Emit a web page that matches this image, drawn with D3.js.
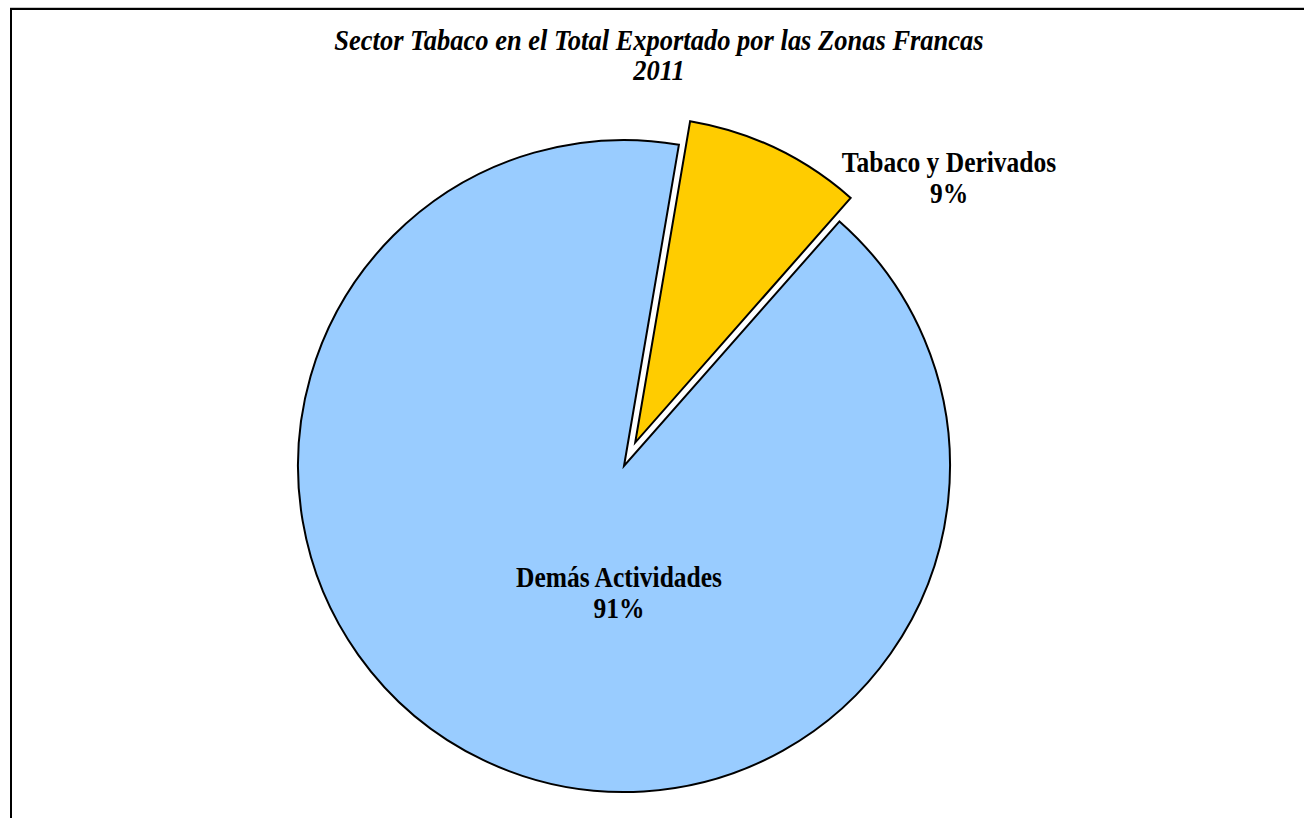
<!DOCTYPE html>
<html>
<head>
<meta charset="utf-8">
<script src="https://cdn.jsdelivr.net/npm/d3@7"></script>
<style>
  html, body { margin: 0; padding: 0; background: #fff; }
  svg { display: block; }
</style>
</head>
<body>
<svg id="chart" width="1304" height="818"></svg>
<script>
const titleLines = ["Sector Tabaco en el Total Exportado por las Zonas Francas", "2011"];
const categories = ["Tabaco y Derivados", "Demás Actividades"];
const values = [8.8, 91.2];
const percentLabels = ["9%", "91%"];
const colors = ["#FFCC00", "#99CCFF"];

const svg = d3.select("#chart");
const W = 1304, H = 818;
const vStretch = 1.12;

// frame (only left & top visible in reference)
svg.append("rect")
  .attr("x", 11).attr("y", 9)
  .attr("width", W + 20).attr("height", H + 20)
  .attr("fill", "#fff")
  .attr("stroke", "#000").attr("stroke-width", 2);
svg.append("line").attr("x1", 10).attr("x2", W).attr("y1", 7.5).attr("y2", 7.5)
  .attr("stroke", "#c8c8c8").attr("stroke-width", 1);

// title
const title = svg.append("text")
  .attr("transform", `translate(659,50) scale(1,${vStretch})`)
  .attr("text-anchor", "middle")
  .attr("font-family", "'Liberation Serif', 'Times New Roman', serif")
  .attr("font-weight", "bold").attr("font-style", "italic")
  .attr("font-size", 26.5).attr("fill", "#000");
titleLines.forEach((t, i) => {
  title.append("tspan").attr("x", 0).attr("y", i * 30 / vStretch).text(t);
});

const cx = 624, cy = 466, R = 326, explode = 26;
const pie = d3.pie().sort(null).value(d => d.value)
  .startAngle(9.7 * Math.PI / 180)
  .endAngle(9.7 * Math.PI / 180 + 2 * Math.PI);
const data = categories.map((c, i) => ({ name: c, value: values[i], pct: percentLabels[i], color: colors[i] }));
const arcs = pie(data);
const arc = d3.arc().innerRadius(0).outerRadius(R);

const g = svg.append("g").attr("transform", `translate(${cx},${cy})`);
g.selectAll("path").data(arcs).join("path")
  .attr("d", arc)
  .attr("transform", (d, i) => {
    if (i !== 0) return null;
    const a = (d.startAngle + d.endAngle) / 2;
    return `translate(${explode * Math.sin(a)},${-explode * Math.cos(a)})`;
  })
  .attr("fill", d => d.data.color)
  .attr("stroke", "#000").attr("stroke-width", 2)
  .attr("stroke-linejoin", "miter");

// labels
const labelPos = [[949, 172], [619, 587]];
const lbl = svg.append("g")
  .attr("font-family", "'Liberation Serif', 'Times New Roman', serif")
  .attr("font-weight", "bold").attr("font-size", 25.5)
  .attr("text-anchor", "middle").attr("fill", "#000");
data.forEach((d, i) => {
  const t = lbl.append("text")
    .attr("transform", `translate(${labelPos[i][0]},${labelPos[i][1]}) scale(1,${vStretch})`);
  t.append("tspan").attr("x", 0).attr("y", 0).text(d.name);
  t.append("tspan").attr("x", 0).attr("y", 31.5 / vStretch).text(d.pct);
});
</script>
</body>
</html>
